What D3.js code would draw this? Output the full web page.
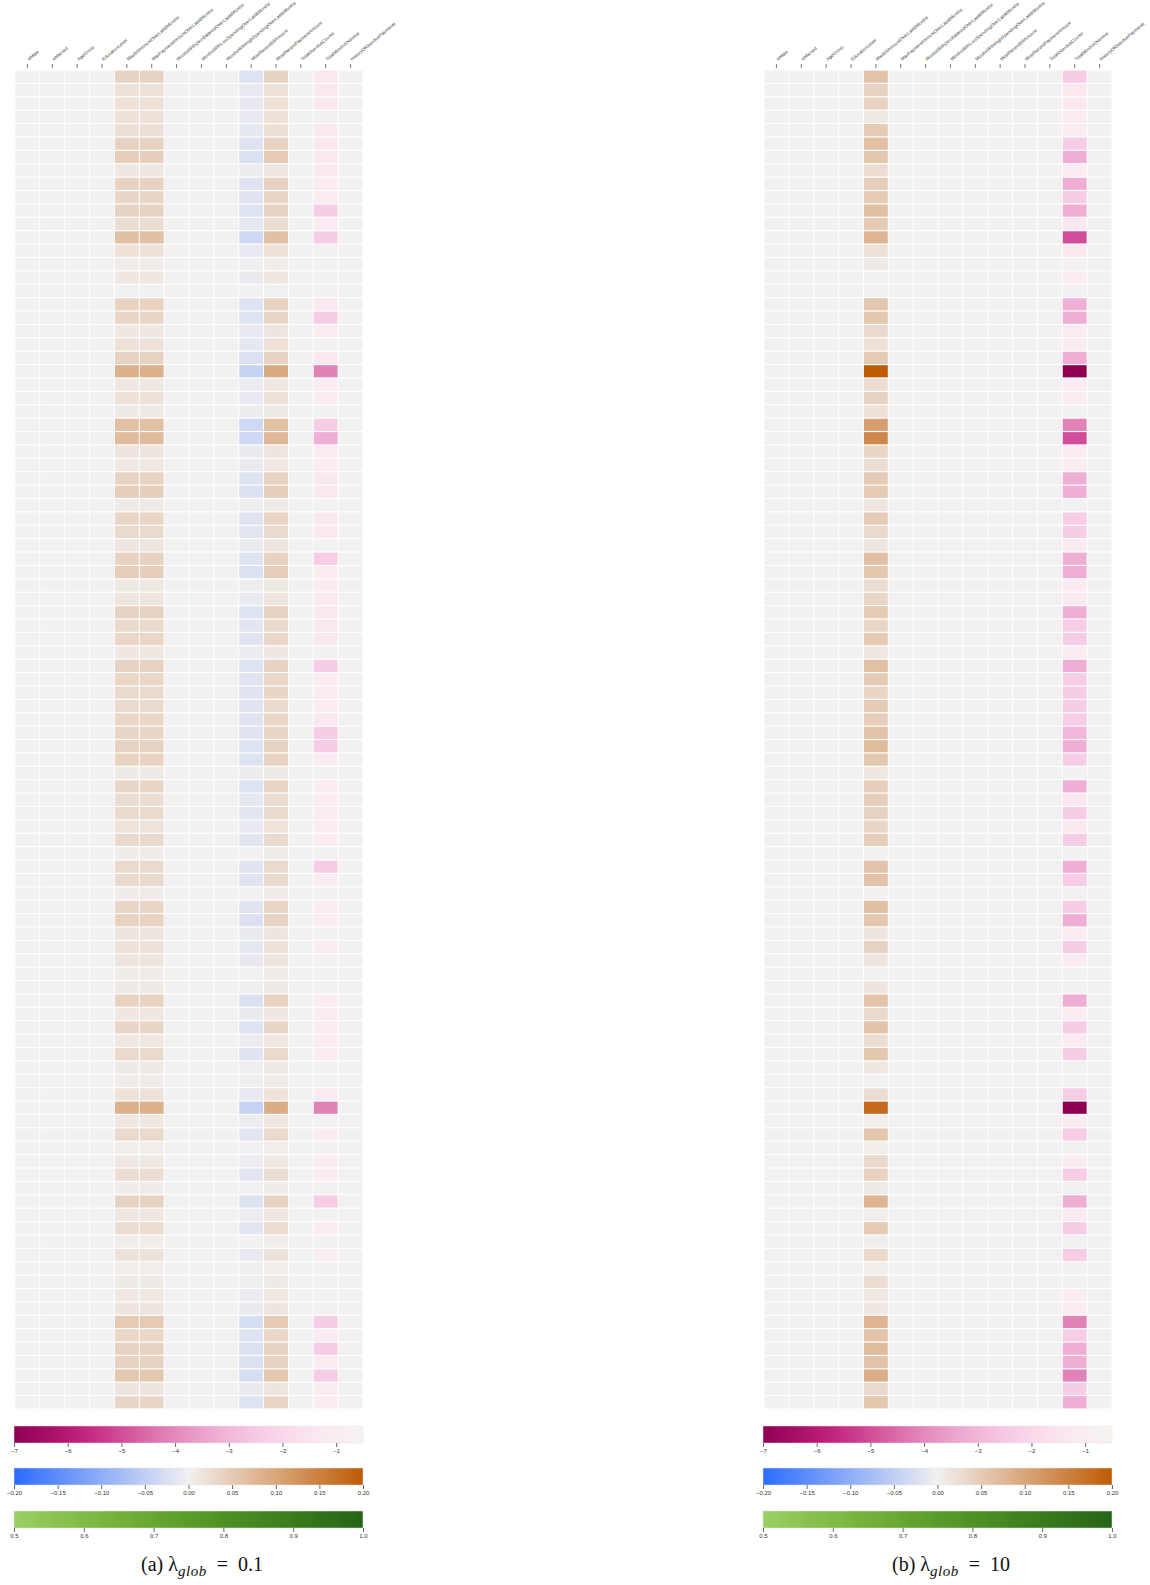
<!DOCTYPE html>
<html>
<head>
<meta charset="utf-8">
<script src="https://cdn.jsdelivr.net/npm/d3@7"></script>
<style>
  html, body { margin: 0; padding: 0; background: #fff; }
  svg { display: block; }
</style>
</head>
<body>
<svg id="chart" width="1150" height="1585"></svg>
<script>
// ---------------- DATA ----------------
const columns = [
  "isMale", "isMarried", "AgeGroup", "EducationLevel",
  "MaxBillAmountOverLast6Months", "MaxPaymentAmountOverLast6Months",
  "MonthsWithZeroBalanceOverLast6Months", "MonthsWithLowSpendingOverLast6Months",
  "MonthsWithHighSpendingOverLast6Months", "MostRecentBillAmount",
  "MostRecentPaymentAmount", "TotalOverdueCounts", "TotalMonthsOverdue",
  "HistoryOfOverduePayments"
];

// panel (a) lambda_glob = 0.1
const a_maxBill = [0.04,0.02,0.02,0.02,0.022,0.04,0.045,0.012,0.04,0.035,
  0.04,0.025,0.065,0.02,0.005,0.012,0,0.04,0.035,0.012,
  0.02,0.04,0.085,0.012,0.02,0.008,0.065,0.07,0.015,0.012,
  0.04,0.045,0.008,0.035,0.03,0.015,0.04,0.045,0.01,0.015,
  0.04,0.03,0.035,0.012,0.04,0.035,0.03,0.03,0.035,0.035,
  0.04,0.04,0.008,0.035,0.025,0.03,0.018,0.03,0.005,0.03,
  0.03,0.005,0.035,0.04,0.015,0.02,0.015,0.005,0.008,0.04,
  0.012,0.035,0.012,0.03,0.008,0.005,0.018,0.085,0.012,0.03,
  0.004,0.012,0.025,0.005,0.04,0.012,0.025,0.004,0.018,0.004,
  0.008,0.012,0.015,0.05,0.035,0.04,0.04,0.055,0.015,0.035];
const a_maxPayment = [0.04,0.02,0.02,0.02,0.022,0.04,0.045,0.012,0.04,0.035,
  0.04,0.025,0.065,0.02,0.005,0.012,0,0.04,0.035,0.012,
  0.02,0.04,0.085,0.012,0.02,0.008,0.065,0.07,0.015,0.012,
  0.04,0.045,0.008,0.035,0.03,0.015,0.04,0.045,0.01,0.015,
  0.04,0.03,0.035,0.012,0.04,0.035,0.03,0.03,0.035,0.035,
  0.04,0.04,0.008,0.035,0.025,0.03,0.018,0.03,0.005,0.03,
  0.03,0.005,0.035,0.04,0.015,0.02,0.015,0.005,0.008,0.04,
  0.012,0.035,0.012,0.03,0.008,0.005,0.018,0.085,0.012,0.03,
  0.004,0.012,0.025,0.005,0.04,0.012,0.025,0.004,0.018,0.004,
  0.008,0.012,0.015,0.05,0.035,0.04,0.04,0.055,0.015,0.035];
const a_recentBill = [-0.02,-0.01,-0.01,-0.01,-0.011,-0.02,-0.022,-0.005,-0.02,-0.018,
  -0.02,-0.012,-0.035,-0.01,-0.003,-0.008,0,-0.02,-0.02,-0.01,
  -0.012,-0.022,-0.045,-0.006,-0.01,-0.005,-0.035,-0.035,-0.008,-0.008,
  -0.02,-0.022,-0.004,-0.018,-0.015,-0.008,-0.02,-0.022,-0.005,-0.008,
  -0.02,-0.015,-0.018,-0.006,-0.02,-0.018,-0.018,-0.018,-0.018,-0.018,
  -0.02,-0.02,-0.005,-0.02,-0.012,-0.015,-0.01,-0.015,0,-0.018,
  -0.018,0,-0.018,-0.022,-0.008,-0.012,-0.01,0,-0.004,-0.022,
  -0.008,-0.02,-0.006,-0.018,-0.004,-0.002,-0.01,-0.045,-0.006,-0.015,
  0,-0.006,-0.015,0,-0.02,-0.006,-0.015,0,-0.01,-0.002,
  -0.004,-0.006,-0.008,-0.028,-0.02,-0.022,-0.022,-0.028,-0.008,-0.02];
const a_recentPayment = [0.04,0.02,0.02,0.02,0.022,0.04,0.05,0.012,0.04,0.035,
  0.04,0.025,0.065,0.02,0.005,0.012,0,0.04,0.035,0.015,
  0.02,0.04,0.095,0.012,0.02,0.008,0.065,0.075,0.015,0.012,
  0.04,0.045,0.008,0.035,0.03,0.015,0.04,0.045,0.01,0.015,
  0.04,0.03,0.035,0.012,0.04,0.035,0.035,0.03,0.035,0.035,
  0.04,0.04,0.008,0.035,0.025,0.03,0.018,0.03,0.005,0.03,
  0.03,0.005,0.035,0.04,0.015,0.02,0.015,0.005,0.008,0.04,
  0.012,0.035,0.012,0.03,0.008,0.005,0.018,0.09,0.012,0.03,
  0.004,0.012,0.025,0.005,0.04,0.012,0.025,0.004,0.018,0.004,
  0.008,0.012,0.015,0.05,0.035,0.04,0.04,0.055,0.015,0.035];
const a_monthsOverdue = [-1.3,-1.3,-1.3,0,-1.3,-1.3,-1.3,-1.3,-1.2,-1.2,
  -2.4,-1.2,-2.4,0,0,0,0,-1.3,-2.4,-1.2,
  0,-1.3,-4.1,-1.2,-1.2,0,-2.4,-3.2,-1.2,-1.2,
  -1.3,-1.3,0,-1.3,-1.3,0,-2.4,-1.2,-1.2,-1.3,
  -1.3,-1.3,-1.3,0,-2.4,-1.2,-1.2,-1.2,-1.3,-2.4,
  -2.4,-1.2,0,-1.2,-1.2,-1.2,-1.2,-1.2,0,-2.4,
  -1.2,0,-1.2,-1.2,0,-1.2,0,0,0,-1.2,
  -1.2,-1.2,-1.2,-1.2,0,0,-1.2,-4.1,0,-1.2,
  0,-1.2,-1.2,0,-2.4,0,-1.1,0,-1.1,0,
  0,0,0,-2.4,-1.2,-2.4,-1.2,-2.4,-1.2,-1.2];

// panel (b) lambda_glob = 10
const b_maxBill = [0.06,0.04,0.04,0.01,0.05,0.065,0.055,0.025,0.045,0.05,
  0.065,0.05,0.08,0.02,0.008,0,0,0.055,0.055,0.03,
  0.02,0.05,0.2,0.025,0.04,0.02,0.11,0.14,0.035,0.025,
  0.05,0.05,0.015,0.05,0.03,0.015,0.065,0.055,0.025,0.035,
  0.05,0.035,0.05,0.012,0.065,0.05,0.035,0.05,0.045,0.06,
  0.07,0.055,0.012,0.045,0.045,0.04,0.035,0.045,0,0.06,
  0.06,0,0.065,0.055,0.015,0.04,0.015,0,0.015,0.06,
  0.03,0.06,0.025,0.055,0.012,0,0.025,0.18,0.004,0.055,
  0.004,0.03,0.04,0.008,0.08,0.004,0.05,0.004,0.03,0.004,
  0.025,0.012,0.012,0.08,0.06,0.07,0.06,0.09,0.03,0.055];
const b_monthsOverdue = [-2.4,-1.3,-1.3,-1.2,-1.2,-2.4,-3.2,-1.2,-3.2,-2.4,
  -3.2,-1.3,-5.0,-1.3,0,-1.2,0,-3.2,-3.2,-1.2,
  -1.2,-3.2,-7,-1.2,-1.2,0,-4.1,-5.0,-1.2,-1.2,
  -3.2,-3.2,0,-2.4,-2.4,-1.2,-3.2,-3.2,-1.2,-1.2,
  -3.2,-2.4,-2.4,-1.2,-3.2,-2.4,-2.4,-2.4,-2.4,-3.0,
  -3.2,-2.4,0,-3.2,-1.3,-2.4,-1.3,-2.4,0,-3.2,
  -2.4,0,-2.4,-3.2,-1.2,-2.4,-1.2,0,0,-3.2,
  -1.2,-2.4,-1.2,-2.4,0,0,-2.4,-7,-1.2,-2.4,
  0,-1.2,-2.4,0,-3.2,-1.2,-2.4,0,-2.4,0,
  0,-1.2,-1.2,-4.1,-2.4,-3.2,-3.2,-4.1,-2.4,-3.2];

const pinkTicks = [-7, -6, -5, -4, -3, -2, -1];
const divTicks = [-0.20, -0.15, -0.10, -0.05, 0.00, 0.05, 0.10, 0.15, 0.20];
const greenTicks = [0.5, 0.6, 0.7, 0.8, 0.9, 1.0];

const panels = [
  { caption: "(a) ", lam: "0.1", x0: 15, data: {
      MaxBillAmountOverLast6Months: a_maxBill,
      MaxPaymentAmountOverLast6Months: a_maxPayment,
      MostRecentBillAmount: a_recentBill,
      MostRecentPaymentAmount: a_recentPayment,
      TotalMonthsOverdue: a_monthsOverdue } },
  { caption: "(b) ", lam: "10", x0: 764, data: {
      MaxBillAmountOverLast6Months: b_maxBill,
      TotalMonthsOverdue: b_monthsOverdue } }
];

// ---------------- SCALES / STYLE ----------------
const W = 348, gridTop = 70, H = 1339, nRows = 100;
const grey = "#f2f0f1";
const pinkScale = v => d3.interpolatePiYG((v + 7) / 13);
const divScale = d3.scaleLinear().domain([-0.2, 0, 0.2])
  .range(["#2b6cff", "#f2f0f0", "#bf5b04"]).clamp(true);
const greenScale = v => d3.interpolatePiYG(0.75 + (v - 0.5) * 0.5);

const svg = d3.select("#chart");
svg.append("rect").attr("width", 1150).attr("height", 1585).attr("fill", "#fff");
const defs = svg.append("defs");

function gradient(id, scale, domain) {
  const g = defs.append("linearGradient").attr("id", id)
    .attr("x1", "0%").attr("x2", "100%").attr("y1", "0%").attr("y2", "0%");
  const n = 40;
  for (let i = 0; i <= n; i++) {
    const v = domain[0] + (domain[1] - domain[0]) * i / n;
    g.append("stop").attr("offset", (i / n * 100) + "%").attr("stop-color", scale(v));
  }
}
gradient("gPink", pinkScale, [-7, -0.5]);
gradient("gDiv", divScale, [-0.2, 0.2]);
gradient("gGreen", greenScale, [0.5, 1.0]);

const rowIdx = d3.range(nRows);

panels.forEach((p, pi) => {
  const g = svg.append("g");
  const x = d3.scaleBand().domain(columns).range([p.x0, p.x0 + W]);
  const y = d3.scaleBand().domain(rowIdx).range([gridTop, gridTop + H]);

  const cells = [];
  rowIdx.forEach(r => columns.forEach(c => {
    const arr = p.data[c];
    const v = arr ? arr[r] : 0;
    let fill = grey;
    if (v !== 0) fill = (c === "TotalMonthsOverdue") ? pinkScale(v) : divScale(v);
    cells.push({ r, c, fill });
  }));

  g.selectAll("rect.cell").data(cells).join("rect")
    .attr("class", "cell")
    .attr("x", d => x(d.c) + 0.5)
    .attr("y", d => y(d.r) + 0.6)
    .attr("width", x.bandwidth() - 1)
    .attr("height", y.bandwidth() - 1.2)
    .attr("fill", d => d.fill);

  // column labels
  const ax = g.append("g").attr("transform", `translate(0,${gridTop - 2})`)
    .call(d3.axisTop(x).tickSize(4).tickSizeOuter(0));
  ax.select(".domain").remove();
  ax.selectAll(".tick line").attr("stroke", "#555").attr("stroke-width", 0.8);
  ax.selectAll(".tick text")
    .attr("x", 0).attr("y", 0).attr("dy", 0)
    .attr("transform", "translate(1.5,-7) rotate(-40)")
    .attr("text-anchor", "start")
    .attr("fill", "#444")
    .style("font-family", "Liberation Sans, Arial, sans-serif")
    .style("font-size", "4.6px");

  // colorbars
  const bars = [
    { id: "gPink", y: 1426, dom: [-7, -0.5], ticks: pinkTicks, fmt: d3.format("d") },
    { id: "gDiv", y: 1468, dom: [-0.2, 0.2], ticks: divTicks, fmt: d3.format(".2f") },
    { id: "gGreen", y: 1511, dom: [0.5, 1.0], ticks: greenTicks, fmt: d3.format(".1f") }
  ];
  bars.forEach(b => {
    const s = d3.scaleLinear().domain(b.dom).range([p.x0 - 1, p.x0 + W]);
    g.append("rect").attr("x", p.x0 - 1).attr("y", b.y).attr("width", W + 1).attr("height", 17)
      .attr("fill", `url(#${b.id})`).attr("stroke", "#e6e6e6").attr("stroke-width", 0.5);
    const a = g.append("g").attr("transform", `translate(0,${b.y + 17})`)
      .call(d3.axisBottom(s).tickValues(b.ticks).tickFormat(b.fmt).tickSize(4).tickPadding(2));
    a.select(".domain").remove();
    a.selectAll(".tick line").attr("stroke", "#444").attr("stroke-width", 0.8);
    a.selectAll(".tick text").attr("fill", "#333")
      .style("font-family", "Liberation Sans, Arial, sans-serif")
      .style("font-size", "6px");
  });

  // caption
  const t = g.append("text")
    .attr("x", p.x0 + W / 2 + 13).attr("y", 1571)
    .attr("text-anchor", "middle")
    .style("font-family", "Liberation Serif, Times New Roman, serif")
    .style("font-size", "20px").attr("fill", "#111");
  t.append("tspan").text(p.caption + "λ");
  t.append("tspan").attr("dy", 5).style("font-style", "italic").style("font-size", "15px")
    .style("letter-spacing", "0.5px").text("glob");
  t.append("tspan").attr("dy", -5).text("\u2002=\u2002" + p.lam);
});
</script>
</body>
</html>
